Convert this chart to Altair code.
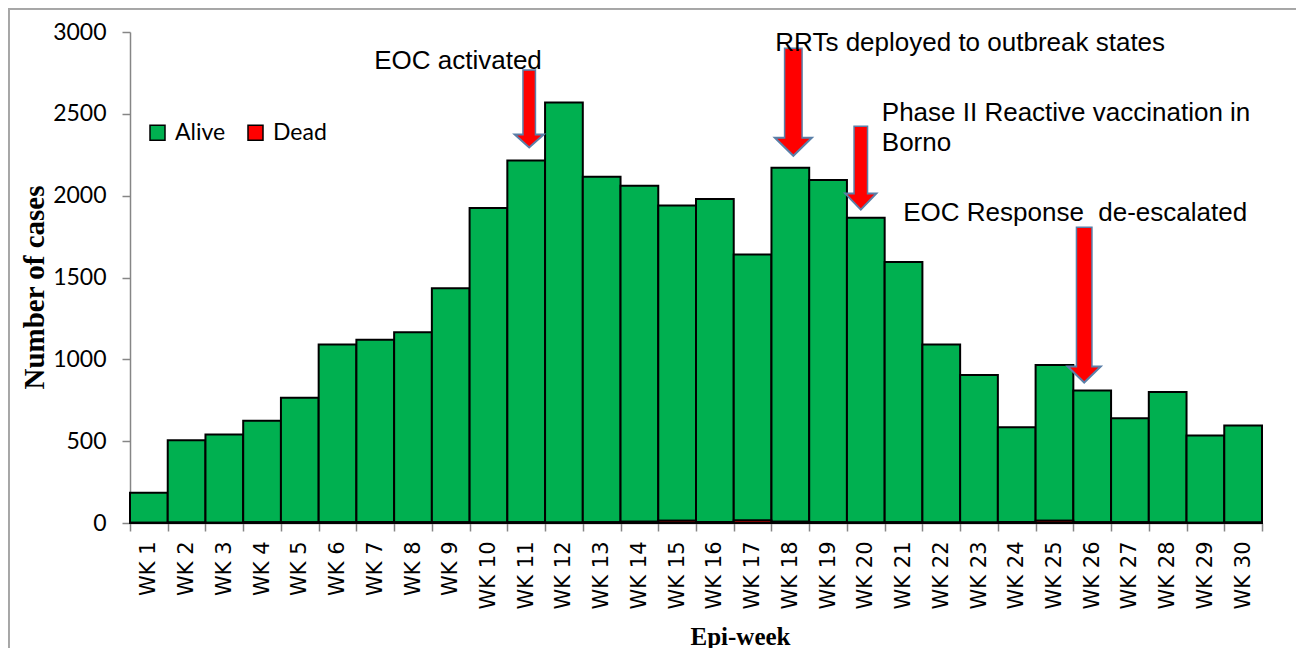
import altair as alt
import pandas as pd

weeks = [f"WK {i}" for i in range(1, 31)]
alive = [184, 502, 538, 621, 760, 1086, 1114, 1160, 1431, 1922, 2211, 2567, 2111, 2052, 1926, 1974, 1624, 2163, 2091, 1862, 1591, 1087, 902, 579, 951, 805, 636, 797, 533, 592]
dead = [1, 3, 2, 4, 5, 4, 6, 5, 4, 3, 4, 3, 4, 8, 14, 6, 16, 7, 4, 3, 4, 3, 3, 6, 14, 5, 4, 3, 2, 3]
statuses = ["Alive", "Dead"]
status_colors = ["#00b050", "#ff0000"]
y_ticks = [0, 500, 1000, 1500, 2000, 2500, 3000]

# annotation arrows (week, top of shaft, top of head, tip) in case units
arrow_weeks = ["WK 11", "WK 18", "WK 20", "WK 26"]
arrow_top = [2772, 2905, 2428, 1811]
arrow_neck = [2374, 2354, 2013, 955]
arrow_tip = [2295, 2244, 1915, 858]

# annotation texts
ann_text = ["EOC activated", "RRTs deployed to outbreak states",
            "Phase II Reactive vaccination in", "Borno",
            "EOC Response\u00a0 de-escalated"]
ann_week = ["WK 11", "WK 18", "WK 20", "WK 20", "WK 26"]
ann_value = [2776, 2886, 2454, 2271, 1843]

# styles (pixels)
arrow_styles = [  # shaft width, head width, head height, x offset
    (11, 29, 13, 3),
    (16, 37, 18, 3),
    (12, 31, 16, -5),
    (14, 33, 16, -8),
]
ann_dx = [-152, -15, 16, 16, -189]
OUTLINE = "#5a7fa8"

bars_df = pd.DataFrame({
    "week": weeks * 2,
    "status": ["Alive"] * 30 + ["Dead"] * 30,
    "count": alive + dead,
})
arrow_df = pd.DataFrame({"week": arrow_weeks, "top": arrow_top,
                         "neck": arrow_neck, "tip": arrow_tip})
ann_df = pd.DataFrame({"label": ann_text, "week": ann_week, "value": ann_value})

Y_TITLE = "Number of cases"
x_enc = alt.X("week:N", sort=weeks, title="Epi-week",
              scale=alt.Scale(paddingInner=0, paddingOuter=0))
y_scale = alt.Scale(domain=[0, 3000], nice=False)

bars = alt.Chart(bars_df).mark_bar(stroke="black", strokeWidth=2).encode(
    x=x_enc,
    y=alt.Y("count:Q", stack="zero", title=Y_TITLE, scale=y_scale,
            axis=alt.Axis(values=y_ticks, format="d")),
    color=alt.Color("status:N",
                    scale=alt.Scale(domain=statuses, range=status_colors),
                    legend=alt.Legend(title=None, orient="none", legendX=16, legendY=89,
                                      direction="horizontal", symbolType="square",
                                      symbolSize=225, symbolStrokeColor="black",
                                      symbolStrokeWidth=1.5, labelFont="Lato",
                                      labelFontSize=23, labelColor="black",
                                      columnPadding=18, labelOffset=6)),
    order=alt.Order("status:N", sort="descending"),
)

layers = [bars]
for i, (w, hw, hh, off) in enumerate(arrow_styles):
    d = arrow_df.iloc[[i]]
    outline = alt.Chart(d).mark_rule(color=OUTLINE, strokeWidth=w + 3, xOffset=off).encode(
        x=x_enc, y=alt.Y("top:Q", title=Y_TITLE, scale=y_scale), y2="neck:Q")
    h = 2 * hh / hw
    path = f"M -1 {-h:.4f} L 1 {-h:.4f} L 0 0 Z"
    head = alt.Chart(d).mark_point(shape=path, size=hw * hw, filled=True, fill="#ff0000",
                                   stroke=OUTLINE, strokeWidth=2, opacity=1,
                                   xOffset=off).encode(
        x=x_enc, y=alt.Y("tip:Q", title=Y_TITLE, scale=y_scale))
    shaft = alt.Chart(d).mark_rule(color="#ff0000", strokeWidth=w, xOffset=off,
                                   yOffset=1.5, y2Offset=3).encode(
        x=x_enc, y=alt.Y("top:Q", title=Y_TITLE, scale=y_scale), y2="neck:Q")
    layers += [outline, head, shaft]

for i, dx in enumerate(ann_dx):
    d = ann_df.iloc[[i]]
    t = alt.Chart(d).mark_text(align="left", baseline="alphabetic", dx=dx,
                               font="Liberation Sans", fontSize=26, color="black").encode(
        x=x_enc, y=alt.Y("value:Q", title=Y_TITLE, scale=y_scale), text="label:N")
    layers.append(t)

# outer frame lines (left and top)
frame_left = alt.Chart(bars_df).mark_rule(color="#a6a6a6", strokeWidth=1.5).encode(
    x=alt.value(-121.5), y=alt.value(-23.5), y2=alt.value(620))
frame_top = alt.Chart(bars_df).mark_rule(color="#a6a6a6", strokeWidth=1.5).encode(
    x=alt.value(-121.5), x2=alt.value(1170), y=alt.value(-23.5))
layers += [frame_left, frame_top]

chart = alt.layer(*layers).properties(
    width=1132, height=491,
    autosize=alt.AutoSizeParams(type="none"),
    padding={"left": 122, "top": 24, "right": 34, "bottom": 125},
    background="white",
).configure_view(stroke=None).configure_axis(
    grid=False, domainColor="#868686", tickColor="#868686", domainWidth=1.5,
    tickWidth=1.5, labelColor="black", titleColor="black",
).configure_axisY(
    labelFont="Lato", labelFontSize=23, tickSize=8, labelPadding=16,
    titleFont="Liberation Serif", titleFontSize=29, titleFontWeight="bold",
    titleX=-87, titleY=255, titleAngle=270, titleAlign="center",
    titleBaseline="alphabetic",
).configure_axisX(
    labelAngle=270, labelFont="DejaVu Sans", labelFontSize=21, tickSize=8,
    labelPadding=10, tickBand="extent",
    titleFont="Liberation Serif", titleFontSize=25, titleFontWeight="bold",
    titleX=610, titleY=121, titleAlign="center", titleBaseline="alphabetic",
)

chart.save("out.html", embed_options={"renderer": "svg", "actions": False})
